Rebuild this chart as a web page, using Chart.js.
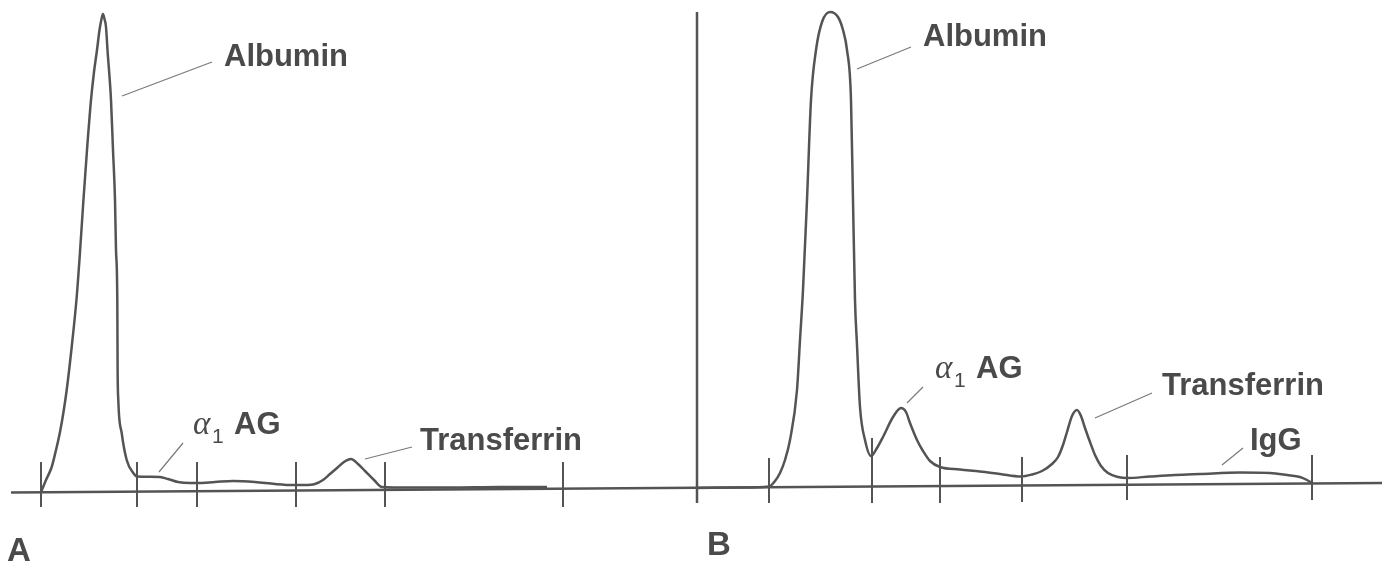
<!DOCTYPE html>
<html>
<head>
<meta charset="utf-8">
<script src="https://cdn.jsdelivr.net/npm/chart.js@4.4.1/dist/chart.umd.min.js"></script>
<style>
  html, body { margin: 0; padding: 0; background: #ffffff; }
  #wrap { width: 1394px; height: 564px; }
</style>
</head>
<body>
<div id="wrap"><canvas id="c" width="1394" height="564"></canvas></div>
<script>
// ---- Data (migration position, relative density) ----
const scanAX = [41.5, 46, 51.7, 56, 60, 63.5, 66.7, 71.7, 76.7, 80, 83.3, 87, 91, 94, 97, 99.5, 101.5, 103, 104.5, 106, 107.5, 111, 113, 115, 116, 117.3, 117.6, 118.3, 121.7, 126.7, 133.3, 137, 150, 160, 168, 178, 190, 197, 215, 233, 255, 275, 293, 305, 315, 323, 330, 337, 344, 351, 358, 366, 374, 382, 400, 450, 500, 547];
const scanAY = [1, 12, 25, 42, 60, 80, 102, 145, 195, 240, 290, 342, 392, 420, 442, 462, 473, 478, 473, 465, 442, 392, 342, 292, 242, 192, 125, 92, 59, 32, 19, 15.5, 15.3, 15, 13, 10, 9, 9, 10, 11, 10, 8, 7, 7, 8, 12, 18, 24, 30, 33, 28, 20, 12, 5, 4.5, 4.5, 5, 5];

const scanBX = [697, 740, 769, 775, 780, 785, 790, 797, 800, 803, 807, 811, 816, 822, 830, 838, 843, 847, 851, 853, 855, 857, 860, 865, 871, 877, 883, 893, 901, 906, 910, 917, 923, 930, 940, 960, 980, 1000, 1021, 1032, 1042, 1052, 1058, 1063, 1067, 1072, 1077, 1081, 1085, 1090, 1095, 1101, 1108, 1118, 1127, 1150, 1175, 1200, 1240, 1270, 1287, 1300, 1307, 1313];
const scanBY = [4, 4.5, 5.5, 11, 19, 32, 52, 102, 152, 202, 292, 392, 442, 470, 480, 475, 462, 442, 392, 292, 192, 147, 85, 52, 36, 44, 55, 75, 84, 80, 69, 52, 41, 31, 25, 22.5, 20.5, 18, 15.5, 17.5, 21, 28, 35, 47, 60, 76, 82, 76, 64, 50, 37, 26, 19, 15, 14, 15.5, 17, 18, 19.5, 19, 17, 15, 12, 8.5];

const baselineX = [11, 1382];
const baselineY = [-0.5, 9];

const axisBX = [697, 697];
const axisBY = [480, -11];

const tickX      = [41, 137, 197, 296, 385, 563, 769, 872, 940, 1022, 1127, 1312];
const tickTop    = [30, 30, 30, 30, 30, 30, 34, 54, 35, 35, 37, 37];
const tickBottom = [-15, -15, -15, -15, -15, -15, -11, -11, -11, -10, -8, -8];

const labelTexts = ['Albumin', 'α1 AG', 'Transferrin', 'Albumin', 'α1 AG', 'Transferrin', 'IgG', 'A', 'B'];
const labelX     = [224, 193, 420, 923, 935, 1162, 1250, 7, 707];
const labelY     = [426, 58, 42, 446, 114, 97, 42, -69, -63];

const leaderX1 = [122, 159, 365, 857, 907, 1095, 1222];
const leaderY1 = [396, 20, 33, 423, 89, 74, 27];
const leaderX2 = [212, 183, 412, 911, 923, 1152, 1243];
const leaderY2 = [430, 49, 45, 445, 105, 99, 44];

// ---- Build datasets ----
const pts = (xs, ys) => xs.map((x, i) => ({ x: x, y: ys[i] }));
const tickPts = [];
tickX.forEach((x, i) => { tickPts.push({x: x, y: tickTop[i]}, {x: x, y: tickBottom[i]}, {x: x, y: null}); });
const leaderPts = [];
leaderX1.forEach((x, i) => { leaderPts.push({x: x, y: leaderY1[i]}, {x: leaderX2[i], y: leaderY2[i]}, {x: leaderX2[i], y: null}); });

const INK = '#545454';
const TEXT = '#4a4a4a';

const labelPlugin = {
  id: 'labels',
  afterDatasetsDraw(chart) {
    const ctx = chart.ctx;
    const xs = chart.scales.x, ys = chart.scales.y;
    ctx.save();
    ctx.fillStyle = TEXT;
    ctx.textBaseline = 'alphabetic';
    ctx.textAlign = 'left';
    labelTexts.forEach((t, i) => {
      const px = xs.getPixelForValue(labelX[i]);
      const py = ys.getPixelForValue(labelY[i]);
      if (t.startsWith('α1')) {
        ctx.font = 'italic 33px "Liberation Serif"';
        ctx.fillText('α', px, py);
        ctx.font = '21px "Liberation Sans"';
        ctx.fillText('1', px + 19, py + 9);
        ctx.font = 'bold 31px "Liberation Sans"';
        ctx.fillText('AG', px + 41, py);
      } else if (t.length === 1) {
        ctx.font = 'bold 33px "Liberation Sans"';
        ctx.fillText(t, px, py);
      } else {
        ctx.font = 'bold 31px "Liberation Sans"';
        ctx.fillText(t, px, py);
      }
    });
    ctx.restore();
  }
};

new Chart(document.getElementById('c'), {
  type: 'scatter',
  data: {
    datasets: [
      { data: pts(baselineX, baselineY), showLine: true, borderColor: INK, borderWidth: 2.5, pointRadius: 0 },
      { data: pts(axisBX, axisBY), showLine: true, borderColor: INK, borderWidth: 2.5, pointRadius: 0 },
      { data: tickPts, showLine: true, spanGaps: false, borderColor: INK, borderWidth: 2, pointRadius: 0 },
      { data: leaderPts, showLine: true, spanGaps: false, borderColor: '#7a7a7a', borderWidth: 1.2, pointRadius: 0 },
      { data: pts(scanAX, scanAY), showLine: true, borderColor: INK, borderWidth: 2.5, pointRadius: 0, cubicInterpolationMode: 'monotone' },
      { data: pts(scanBX, scanBY), showLine: true, borderColor: INK, borderWidth: 2.5, pointRadius: 0, cubicInterpolationMode: 'monotone' }
    ]
  },
  options: {
    responsive: false,
    animation: false,
    layout: { padding: 0 },
    plugins: { legend: { display: false }, tooltip: { enabled: false } },
    scales: {
      x: { type: 'linear', min: 0, max: 1394, display: false },
      y: { type: 'linear', min: -72, max: 492, display: false }
    }
  },
  plugins: [labelPlugin]
});
</script>
</body>
</html>
